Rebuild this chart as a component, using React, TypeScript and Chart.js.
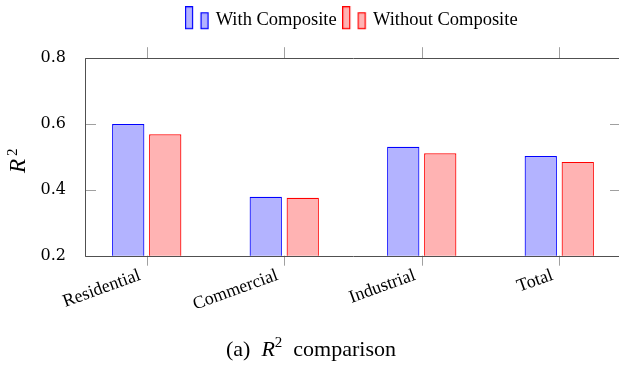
import React, { useEffect, useRef } from "react";
import { Chart, registerables } from "chart.js";

Chart.register(...registerables);

const categories = ["Residential", "Commercial", "Industrial", "Total"];
const seriesNames = ["With Composite", "Without Composite"];
const withComposite = [0.6, 0.379, 0.531, 0.503];
const withoutComposite = [0.569, 0.376, 0.511, 0.485];
const yTicks = [0.2, 0.4, 0.6, 0.8];
const yTitleBase = "R";
const yTitleSup = "2";

const BLUE_FILL = "rgb(179,179,255)";
const BLUE_LINE = "rgb(0,0,255)";
const RED_FILL = "rgb(255,179,179)";
const RED_LINE = "rgb(255,0,0)";
const SERIF = "'Liberation Serif', 'Times New Roman', serif";
const NUMFONT = "'DejaVu Serif', serif";

function legendIcon(fill: string, stroke: string) {
  const c = document.createElement("canvas");
  c.width = 25;
  c.height = 28;
  const ctx = c.getContext("2d")!;
  ctx.fillStyle = fill;
  ctx.strokeStyle = stroke;
  ctx.lineWidth = 1.2;
  ctx.fillRect(0.6, 0.6, 7, 21.8);
  ctx.strokeRect(0.6, 0.6, 7, 21.8);
  ctx.fillRect(16.1, 6.6, 7, 15.8);
  ctx.strokeRect(16.1, 6.6, 7, 15.8);
  return c;
}

const framePlugin = {
  id: "pgfFrame",
  afterDatasetsDraw(chart: any) {
    const { ctx, chartArea } = chart;
    const { left, right, top, bottom } = chartArea;
    const xs = chart.scales.x;
    const ys = chart.scales.y;
    ctx.save();
    ctx.lineWidth = 1;
    ctx.strokeStyle = "#a0a0a0";
    ctx.beginPath();
    categories.forEach((_, i) => {
      const px = Math.round(xs.getPixelForValue(i)) + 0.5;
      ctx.moveTo(px, bottom);
      ctx.lineTo(px, bottom + 10);
      ctx.moveTo(px, top);
      ctx.lineTo(px, top - 11);
    });
    yTicks.forEach((v) => {
      const py = Math.round(ys.getPixelForValue(v)) + 0.5;
      ctx.moveTo(left, py);
      ctx.lineTo(left + 11, py);
      ctx.moveTo(right, py);
      ctx.lineTo(right - 11, py);
    });
    ctx.stroke();
    ctx.strokeStyle = "#505050";
    ctx.beginPath();
    ctx.rect(Math.round(left) + 0.5, Math.round(top) + 0.5, Math.round(right - left), Math.round(bottom - top));
    ctx.stroke();

    // y-axis title: italic R with upright superscript 2, rotated
    const cy = (top + bottom) / 2;
    ctx.fillStyle = "#000";
    ctx.translate(25, cy + 16);
    ctx.rotate(-Math.PI / 2);
    ctx.textBaseline = "alphabetic";
    ctx.textAlign = "left";
    ctx.font = `italic 23px ${SERIF}`;
    ctx.fillText(yTitleBase, 0, 0);
    const w = ctx.measureText(yTitleBase).width;
    ctx.font = `15px ${SERIF}`;
    ctx.fillText(yTitleSup, w + 3, -8);
    ctx.restore();
  },
};

export default function App() {
  const ref = useRef<HTMLCanvasElement>(null);
  useEffect(() => {
    const icons = [legendIcon(BLUE_FILL, BLUE_LINE), legendIcon(RED_FILL, RED_LINE)];
    const chart = new Chart(ref.current!, {
      type: "bar",
      data: {
        datasets: [
          {
            label: seriesNames[0],
            data: categories.map((_, i) => ({ x: i, y: withComposite[i] })),
            backgroundColor: BLUE_FILL,
            borderColor: BLUE_LINE,
            borderWidth: 1.2,
            borderSkipped: false,
          },
          {
            label: seriesNames[1],
            data: categories.map((_, i) => ({ x: i, y: withoutComposite[i] })),
            backgroundColor: RED_FILL,
            borderColor: RED_LINE,
            borderWidth: 1.2,
            borderSkipped: false,
          },
        ],
      },
      options: {
        animation: false,
        responsive: true,
        maintainAspectRatio: false,
        layout: { padding: { left: 0, right: 9, top: 2, bottom: 0 } },
        datasets: { bar: { categoryPercentage: 0.538, barPercentage: 0.873 } },
        plugins: {
          tooltip: { enabled: false },
          legend: {
            position: "top",
            fullSize: false,
            labels: {
              usePointStyle: true,
              pointStyleWidth: 18,
              padding: 9,
              color: "#000",
              font: { family: SERIF, size: 18.5 },
              generateLabels: (ch: any) =>
                ch.data.datasets.map((ds: any, i: number) => ({
                  text: ds.label,
                  pointStyle: icons[i],
                  fillStyle: ds.backgroundColor,
                  strokeStyle: ds.borderColor,
                  lineWidth: 0,
                  hidden: false,
                  datasetIndex: i,
                  fontColor: "#000",
                })),
            },
          },
        },
        scales: {
          x: {
            type: "linear",
            position: "bottom",
            min: -0.449,
            max: 3.449,
            offset: false,
            afterBuildTicks: (s: any) => {
              s.ticks = categories.map((_, i) => ({ value: i }));
            },
            afterFit: (s: any) => {
              s.height = 110.3;
            },
            grid: { display: false },
            border: { display: false },
            ticks: {
              autoSkip: false,
              minRotation: 20,
              maxRotation: 20,
              padding: 1,
              labelOffset: -7,
              color: "#000",
              font: { family: SERIF, size: 18 },
              callback: (v: any) => categories[Math.round(v)] ?? "",
            },
          },
          xt: {
            type: "linear",
            axis: "x",
            position: "top",
            display: true,
            grid: { display: false },
            border: { display: false },
            ticks: { display: false },
            afterFit: (s: any) => {
              s.height = 18.7;
            },
          },
          y: {
            min: 0.2,
            max: 0.8,
            afterBuildTicks: (s: any) => {
              s.ticks = yTicks.map((v) => ({ value: v }));
            },
            afterFit: (s: any) => {
              s.width = 85;
            },
            grid: { display: false },
            border: { display: false },
            ticks: {
              padding: 11,
              color: "#000",
              font: { family: NUMFONT, size: 16 },
              callback: (v: any) => Number(v).toFixed(1),
            },
          },
        },
      },
      plugins: [framePlugin],
    } as any);
    return () => chart.destroy();
  }, []);

  return (
    <div
      style={{
        position: "fixed",
        left: 0,
        top: 0,
        width: 619,
        height: 366,
        overflow: "hidden",
        background: "#fff",
      }}
    >
      <div style={{ position: "absolute", left: 0, top: 0, width: 630, height: 366 }}>
        <canvas ref={ref} />
      </div>
      <div
        style={{
          position: "absolute",
          left: 0,
          top: 338,
          width: 622,
          textAlign: "center",
          fontFamily: SERIF,
          fontSize: 22,
          lineHeight: "22px",
          color: "#000",
          whiteSpace: "nowrap",
        }}
      >
        (a)&nbsp; <i>R</i>
        <sup style={{ fontSize: 15, fontStyle: "normal", verticalAlign: 0, position: "relative", top: -9 }}>2</sup>
        &nbsp; comparison
      </div>
    </div>
  );
}
